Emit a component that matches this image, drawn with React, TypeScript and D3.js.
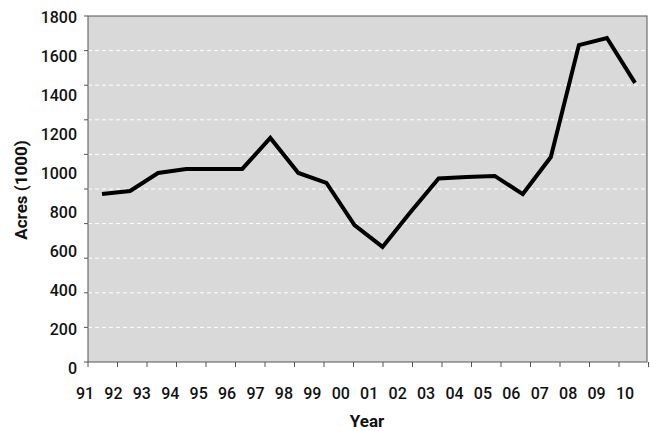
import React from "react";
import * as d3 from "d3";

const years = ["91","92","93","94","95","96","97","98","99","00","01","02","03","04","05","06","07","08","09","10"];
const acres = [892,908,1000,1021,1021,1021,1180,1000,949,733,621,800,972,979,985,892,1082,1656,1692,1462];
const yTickLabels = [0,200,400,600,800,1000,1200,1400,1600,1800];

const L = 88, R = 647, T = 16, B = 362;

export default function App() {
  const x = d3.scaleLinear().domain([0, years.length - 1]).range([102, 635]);
  const y = d3.scaleLinear().domain([0, 1800]).range([368, 17]);
  const grid = d3.scaleLinear().domain([0, 10]).range([B, T]);
  const labelX = d3.scaleLinear().domain([0, years.length - 1]).range([85, 625]);
  const tickX = d3.scaleLinear().domain([0, 19]).range([L, L + 19 * 29.5]);
  const line = d3.line<number>().x((_, i) => x(i)).y(d => y(d));
  const font = "Roboto, Liberation Sans, Arial, sans-serif";
  return (
    <svg width={650} height={431} style={{ position: "absolute", left: 0, top: 0 }} fontFamily={font}>
      <rect x={L} y={T} width={R - L} height={B - T} fill="#d9d9d9" />
      {d3.range(1, 10).map(i => (
        <line key={i} x1={L} x2={R} y1={grid(i)} y2={grid(i)} stroke="#fff" strokeDasharray="4,3" strokeWidth={1} />
      ))}
      <rect x={L} y={T} width={R - L} height={B - T} fill="none" stroke="#555" strokeWidth={1} />
      {d3.range(0, 11).map(i => (
        <line key={i} x1={L - 4} x2={L} y1={grid(i)} y2={grid(i)} stroke="#555" />
      ))}
      {d3.range(0, 20).map(i => (
        <line key={i} x1={tickX(i)} x2={tickX(i)} y1={B} y2={B + 5} stroke="#555" />
      ))}
      {yTickLabels.map(v => (
        <text key={v} x={77} y={y(v)} dy="0.36em" textAnchor="end" fontSize={16} fontWeight={500} fill="#111">{v}</text>
      ))}
      {years.map((yr, i) => (
        <text key={yr} x={labelX(i)} y={399} textAnchor="middle" fontSize={16} fontWeight={500} fill="#111">{yr}</text>
      ))}
      <path d={line(acres) || ""} fill="none" stroke="#000" strokeWidth={4} strokeLinejoin="miter" />
      <text transform="translate(27,190) rotate(-90)" textAnchor="middle" fontSize={17} fontWeight="bold" fill="#111">Acres (1000)</text>
      <text x={367} y={427} textAnchor="middle" fontSize={17} fontWeight="bold" fill="#111">Year</text>
    </svg>
  );
}
